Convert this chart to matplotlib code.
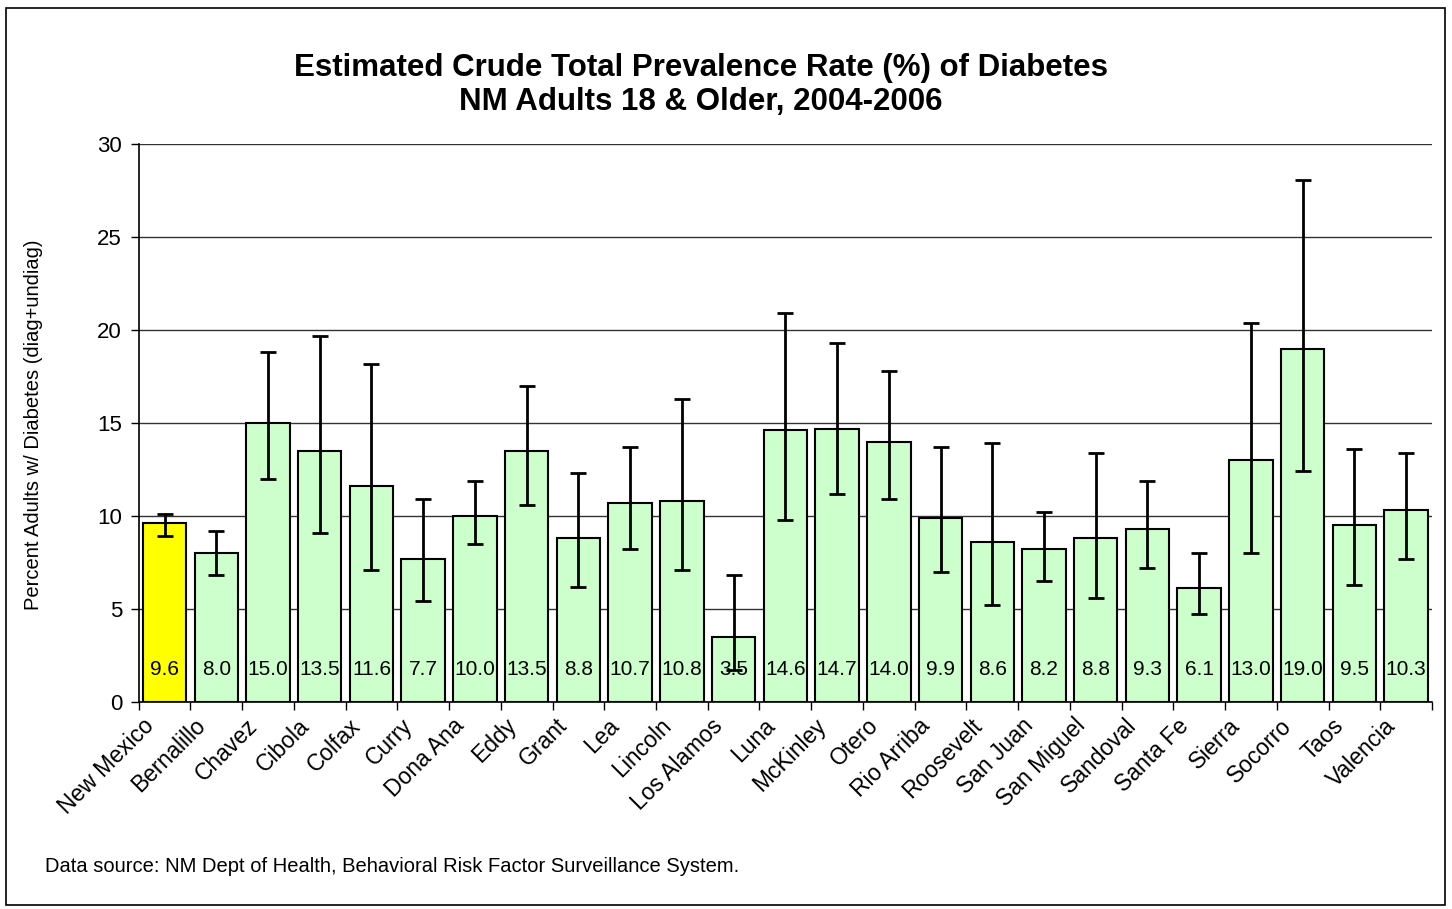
import numpy as np
import matplotlib
matplotlib.use('Agg')
from matplotlib import pyplot as plt
from matplotlib.patches import Rectangle
from matplotlib.transforms import ScaledTranslation

plt.rcParams['font.family'] = ['Liberation Sans', 'DejaVu Sans']

counties = ['New Mexico', 'Bernalillo', 'Chavez', 'Cibola', 'Colfax', 'Curry', 'Dona Ana',
            'Eddy', 'Grant', 'Lea', 'Lincoln', 'Los Alamos', 'Luna', 'McKinley', 'Otero',
            'Rio Arriba', 'Roosevelt', 'San Juan', 'San Miguel', 'Sandoval', 'Santa Fe',
            'Sierra', 'Socorro', 'Taos', 'Valencia']
rates = [9.6, 8.0, 15.0, 13.5, 11.6, 7.7, 10.0, 13.5, 8.8, 10.7, 10.8, 3.5, 14.6,
         14.7, 14.0, 9.9, 8.6, 8.2, 8.8, 9.3, 6.1, 13.0, 19.0, 9.5, 10.3]
ci_low = [8.9, 6.8, 12.0, 9.1, 7.1, 5.4, 8.5, 10.6, 6.2, 8.2, 7.1, 1.7, 9.8,
          11.2, 10.9, 7.0, 5.2, 6.5, 5.6, 7.2, 4.7, 8.0, 12.4, 6.3, 7.7]
ci_high = [10.1, 9.2, 18.8, 19.7, 18.2, 10.9, 11.9, 17.0, 12.3, 13.7, 16.3, 6.8, 20.9,
           19.3, 17.8, 13.7, 13.9, 10.2, 13.4, 11.9, 8.0, 20.4, 28.1, 13.6, 13.4]
yticks = [0, 5, 10, 15, 20, 25, 30]

W, H = 1452, 909
fig = plt.figure(figsize=(W / 100, H / 100), dpi=100)
ax = fig.add_axes([138.7 / W, 1 - 701.7 / H, (1432 - 138.7) / W, (701.7 - 144.3) / H])

x = np.arange(len(counties))
colors = ['#FFFF00'] + ['#CCFFCC'] * (len(counties) - 1)
rates_arr = np.array(rates)
err = [rates_arr - np.array(ci_low), np.array(ci_high) - rates_arr]

ax.bar(x, rates, width=0.84, color=colors, edgecolor='black', linewidth=1.5, zorder=2)
ax.errorbar(x, rates, yerr=err, fmt='none', ecolor='black', elinewidth=2,
            capsize=5.5, capthick=2, zorder=3)

for xi, v in zip(x, rates):
    ax.text(xi, 1.75, '%.1f' % v, ha='center', va='center', fontsize=15, zorder=4)

ax.set_xlim(-0.5, len(counties) - 0.5)
ax.set_ylim(0, 30)
ax.set_yticks(yticks)
ax.set_yticklabels([str(t) for t in yticks], fontsize=16)
ax.yaxis.grid(True, color='#333333', linewidth=1, zorder=0)
ax.set_axisbelow(True)

ax.set_xticks(x)
ax.set_xticklabels(counties, rotation=45, ha='right', va='top', fontsize=16.5)
ax.tick_params(axis='x', length=0, pad=9)
# shift the rotated labels a little to the left, like the original
shift = ScaledTranslation(-6 / 100, 0, fig.dpi_scale_trans)
for lbl in ax.get_xticklabels():
    lbl.set_transform(lbl.get_transform() + shift)
ax.set_xticks(np.arange(-0.5, len(counties)), minor=True)
ax.tick_params(axis='x', which='minor', length=6, width=1, direction='out')
ax.tick_params(axis='y', length=6, width=1, direction='out', pad=6)

for s in ['top', 'right']:
    ax.spines[s].set_visible(False)
ax.spines['left'].set_linewidth(1.2)
ax.spines['bottom'].set_linewidth(1.2)

fig.text(34 / W, 1 - 425 / H, 'Percent Adults w/ Diabetes (diag+undiag)', rotation=90,
         ha='center', va='center', fontsize=14.5)

fig.text(701 / W, 1 - 68 / H, 'Estimated Crude Total Prevalence Rate (%) of Diabetes',
         ha='center', va='center', fontsize=22.5, fontweight='bold')
fig.text(701 / W, 1 - 102 / H, 'NM Adults 18 & Older, 2004-2006',
         ha='center', va='center', fontsize=22.5, fontweight='bold')

fig.text(45 / W, 1 - 866 / H,
         'Data source: NM Dept of Health, Behavioral Risk Factor Surveillance System.',
         ha='left', va='center', fontsize=14.5)

fig.patches.append(Rectangle((6 / W, 4 / H), (1445 - 6) / W, (905 - 8) / H,
                             transform=fig.transFigure, fill=False,
                             edgecolor='black', linewidth=1.2))

fig.savefig('out.png', dpi=100)
